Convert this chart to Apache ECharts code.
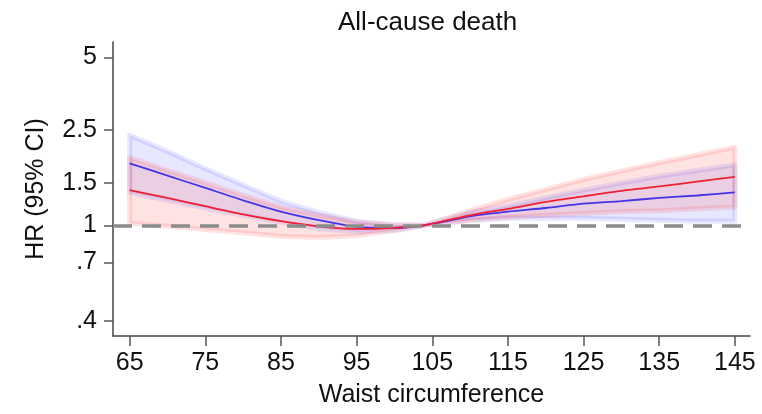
<!DOCTYPE html>
<html>
<head>
<meta charset="utf-8">
<script src="https://cdn.jsdelivr.net/npm/echarts@6/dist/echarts.min.js"></script>
<style>
html,body{margin:0;padding:0;background:#fff;}
#chart{width:762px;height:414px;}
</style>
</head>
<body>
<div id="chart"></div>
<script>
// ---- data ----
const waist = [65,70,75,80,85,90,95,100,104,110,115,120,125,130,135,140,145];

const blueHR = [1.81,1.61,1.43,1.27,1.14,1.05,0.985,0.976,1.00,1.09,1.14,1.18,1.23,1.26,1.30,1.33,1.37];
const blueLo = [1.37,1.27,1.18,1.10,1.03,0.97,0.94,0.953,1.00,1.05,1.07,1.07,1.07,1.06,1.05,1.04,1.04];
const blueHi = [2.37,2.03,1.72,1.47,1.26,1.13,1.04,1.00,1.00,1.13,1.20,1.30,1.40,1.50,1.60,1.69,1.78];

const redHR = [1.40,1.30,1.20,1.11,1.04,0.99,0.965,0.976,1.00,1.10,1.17,1.25,1.32,1.39,1.45,1.52,1.59];
const redLo = [1.02,0.99,0.96,0.93,0.90,0.89,0.905,0.95,1.00,1.05,1.08,1.10,1.12,1.14,1.15,1.17,1.19];
const redHi = [1.91,1.69,1.50,1.33,1.19,1.10,1.03,1.005,1.00,1.15,1.28,1.41,1.55,1.68,1.82,1.96,2.11];

const xTicks = [65,75,85,95,105,115,125,135,145];
const yTickVals = [0.4,0.7,1,1.5,2.5,5];
const yTickLabels = ['.4','.7','1','1.5','2.5','5'];
const refHR = 1;
const xRange = [62.8, 147];
const yRange = [0.346, 5.79];

// ---- chart ----
const FONT = "'Liberation Sans', Arial, sans-serif";
const ln = Math.log;
const chart = echarts.init(document.getElementById('chart'), null, {renderer: 'canvas'});

function toSeries(vals) { return waist.map((x, i) => [x, ln(vals[i])]); }

function band(lo, hi, color) {
  return {
    type: 'custom',
    coordinateSystem: 'cartesian2d',
    silent: true,
    z: 2,
    data: [[waist[0], ln(lo[0])]],
    renderItem: function (params, api) {
      const pts = [];
      for (let i = 0; i < waist.length; i++) pts.push(api.coord([waist[i], ln(hi[i])]));
      for (let i = waist.length - 1; i >= 0; i--) pts.push(api.coord([waist[i], ln(lo[i])]));
      return {
        type: 'polygon',
        shape: {points: pts},
        style: {fill: color, stroke: color, lineWidth: 5, lineJoin: 'round'}
      };
    }
  };
}

const option = {
  animation: false,
  backgroundColor: '#fff',
  title: {
    text: 'All-cause death',
    left: 333, top: 5,
    textStyle: {fontFamily: FONT, fontSize: 26, fontWeight: 'normal', color: '#111'}
  },
  grid: {left: 113, right: 12, top: 42, bottom: 78},
  xAxis: {
    type: 'value',
    min: xRange[0], max: xRange[1],
    name: 'Waist circumference',
    nameLocation: 'middle',
    nameGap: 47,
    nameTextStyle: {fontFamily: FONT, fontSize: 25, color: '#111'},
    axisLine: {show: true, onZero: false, lineStyle: {color: '#444', width: 1.5}},
    axisTick: {show: true, length: 10, customValues: xTicks, lineStyle: {color: '#555', width: 1.5}},
    axisLabel: {customValues: xTicks, margin: 15, fontFamily: FONT, fontSize: 25, color: '#111'},
    splitLine: {show: false}
  },
  yAxis: {
    type: 'value',
    min: ln(yRange[0]), max: ln(yRange[1]),
    name: 'HR (95% CI)',
    nameLocation: 'middle',
    nameRotate: 90,
    nameGap: 64,
    nameTextStyle: {fontFamily: FONT, fontSize: 25, color: '#111'},
    axisLine: {show: true, onZero: false, lineStyle: {color: '#444', width: 1.5}},
    axisTick: {show: true, length: 9, customValues: yTickVals.map(ln), lineStyle: {color: '#555', width: 1.5}},
    axisLabel: {
      customValues: yTickVals.map(ln),
      margin: 16,
      fontFamily: FONT, fontSize: 25, color: '#111',
      formatter: function (v) {
        let best = 0, d = Infinity;
        yTickVals.forEach((t, i) => { const dd = Math.abs(ln(t) - v); if (dd < d) { d = dd; best = i; } });
        return yTickLabels[best];
      }
    },
    splitLine: {show: false}
  },
  series: [
    {
      type: 'line', data: [], silent: true, z: 1,
      markLine: {
        silent: true, symbol: ['none', 'none'], label: {show: false},
        lineStyle: {color: '#8c8c8c', width: 3.5, type: [19, 10]},
        data: [{yAxis: ln(refHR)}]
      }
    },
    band(blueLo, blueHi, 'rgba(40,40,255,0.115)'),
    band(redLo, redHi, 'rgba(255,30,30,0.125)'),
    {
      type: 'line', data: toSeries(blueHR), showSymbol: false, smooth: 0.25, z: 3,
      lineStyle: {color: '#4434e6', width: 1.8}
    },
    {
      type: 'line', data: toSeries(redHR), showSymbol: false, smooth: 0.25, z: 4,
      lineStyle: {color: '#f02030', width: 1.8}
    }
  ]
};
chart.setOption(option);
</script>
</body>
</html>
